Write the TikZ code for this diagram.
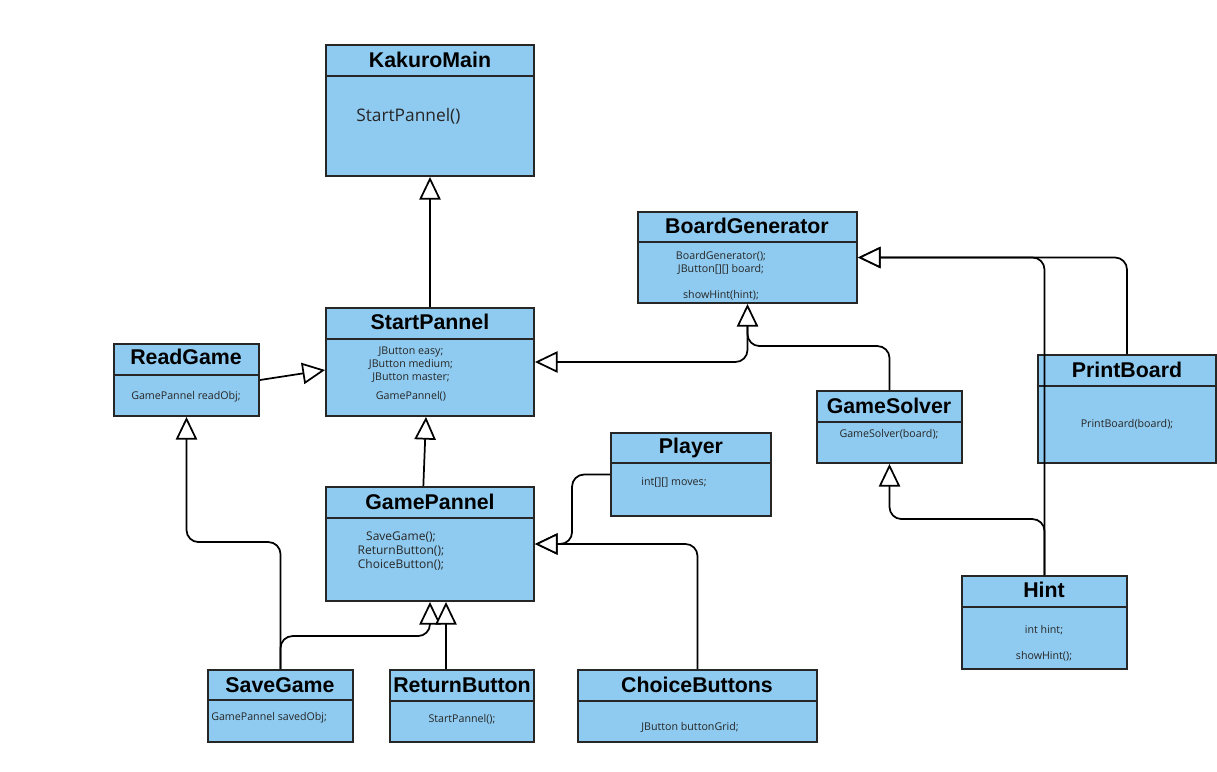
\documentclass[tikz,border=0pt]{standalone}
\usepackage{fontspec}
\setmainfont{Open Sans}
\newfontfamily\headfont{Liberation Sans}
\usetikzlibrary{arrows.meta,fit}
\definecolor{classblue}{RGB}{143,203,240}
\tikzstyle{classbox}=[draw=black!85,fill=classblue,line width=1.4pt,inner sep=0pt]
\tikzstyle{classname}=[font=\headfont\bfseries\fontsize{16}{18}\selectfont,inner sep=0pt]
\tikzstyle{members}=[font=\fontsize{8}{9.8}\selectfont,align=center,inner sep=0pt,text=black!85]
\tikzstyle{inherit}=[line width=1.3pt,rounded corners=9pt,-{Triangle[fill=white,length=17pt,width=16pt]}]

\begin{document}
\begin{tikzpicture}[x=0.75pt,y=-0.75pt]
\useasboundingbox (0,0) rectangle (1217,771);

% class boxes: name / left / top / right / bottom / divider
\foreach \name/\xa/\ya/\xb/\yb/\yd in {kakuro/326/45/534/176/76,
    startp/326/308/534/416/339, readgame/114/344/259/416/375,
    bgen/638/212/857/303/242, gsolver/817/391/962/463/422,
    pboard/1038/355/1216/463/386, player/611/433/771/516/463,
    gpanel/326/487/534/601/518, savegame/208/670/353/742/700,
    retbtn/390/670/534/742/701, choice/578/670/817/742/701,
    hint/962/576/1127/669/607}{
\node[classbox,fit={(\xa,\ya) (\xb,\yb)}] (\name) {};
\draw[line width=1.4pt,black!85] (\xa,\yd) -- (\xb,\yd);
}

\node[classname] (kakuro-t) at (430,60) {KakuroMain};
\node[members,font=\fontsize{13}{15}\selectfont,anchor=west] (kakuro-m) at (356,116) {StartPannel()};

\node[classname] (startp-t) at (430,322) {StartPannel};
\node[members] (startp-m) at (411,374) {JButton easy;\\JButton medium;\\JButton master;\\[5pt]GamePannel()};

\node[classname] (readgame-t) at (186,357) {ReadGame};
\node[members] (readgame-m) at (186,397) {GamePannel readObj;};

\node[classname] (bgen-t) at (747,226) {BoardGenerator};
\node[members] (bgen-m) at (721,276) {BoardGenerator();\\JButton[][] board;\\[9.8pt]showHint(hint);};

\node[classname] (gsolver-t) at (889,406) {GameSolver};
\node[members] (gsolver-m) at (889,434) {GameSolver(board);};

\node[classname] (pboard-t) at (1127,370) {PrintBoard};
\node[members] (pboard-m) at (1127,424) {PrintBoard(board);};

\node[classname] (player-t) at (691,448) {Player};
\node[members] (player-m) at (674,482) {int[][] moves;};

\node[classname] (gpanel-t) at (430,502) {GamePannel};
\node[members,font=\fontsize{9}{10.8}\selectfont] (gpanel-m) at (401,551) {SaveGame();\\ReturnButton();\\ChoiceButton();};

\node[classname] (savegame-t) at (280,685) {SaveGame};
\node[members,anchor=west] (savegame-m) at (211,718) {GamePannel savedObj;};

\node[classname] (retbtn-t) at (462,685) {ReturnButton};
\node[members] (retbtn-m) at (462,719) {StartPannel();};

\node[classname] (choice-t) at (697,685) {ChoiceButtons};
\node[members] (choice-m) at (690,727) {JButton buttonGrid;};

\node[classname] (hint-t) at (1044,590) {Hint};
\node[members] (hint-m) at (1044,643) {int hint;\\[9.8pt]showHint();};

% inheritance
\draw[inherit] (startp.north) -- (kakuro.south);
\draw[inherit] (readgame.east) -- ([yshift=-6pt]startp.west);
\draw[inherit] ([yshift=-17pt]bgen.south) |- (startp.east);
\draw[inherit] (gsolver.north) -- ++(0,-44) -| (bgen.south);
\draw[inherit] (pboard.north) |- (bgen.east);
\draw[inherit] (hint.north) |- (bgen.east);
\draw[inherit] (hint.north) -- ++(0,-56) -| (gsolver.south);
\draw[inherit] ([xshift=-5pt]gpanel.north) -- ([xshift=-3pt]startp.south);
\draw[inherit] (player.west) -- ++(-38,0) |- (gpanel.east);
\draw[inherit] (choice.north) |- (gpanel.east);
\draw[inherit] (savegame.north) -- ++(0,-127) -| (readgame.south);
\draw[inherit] (savegame.north) -- ++(0,-33) -| (gpanel.south);
\draw[inherit] ([xshift=-12pt]retbtn.north) -- ([xshift=12pt]gpanel.south);
\end{tikzpicture}
\end{document}
